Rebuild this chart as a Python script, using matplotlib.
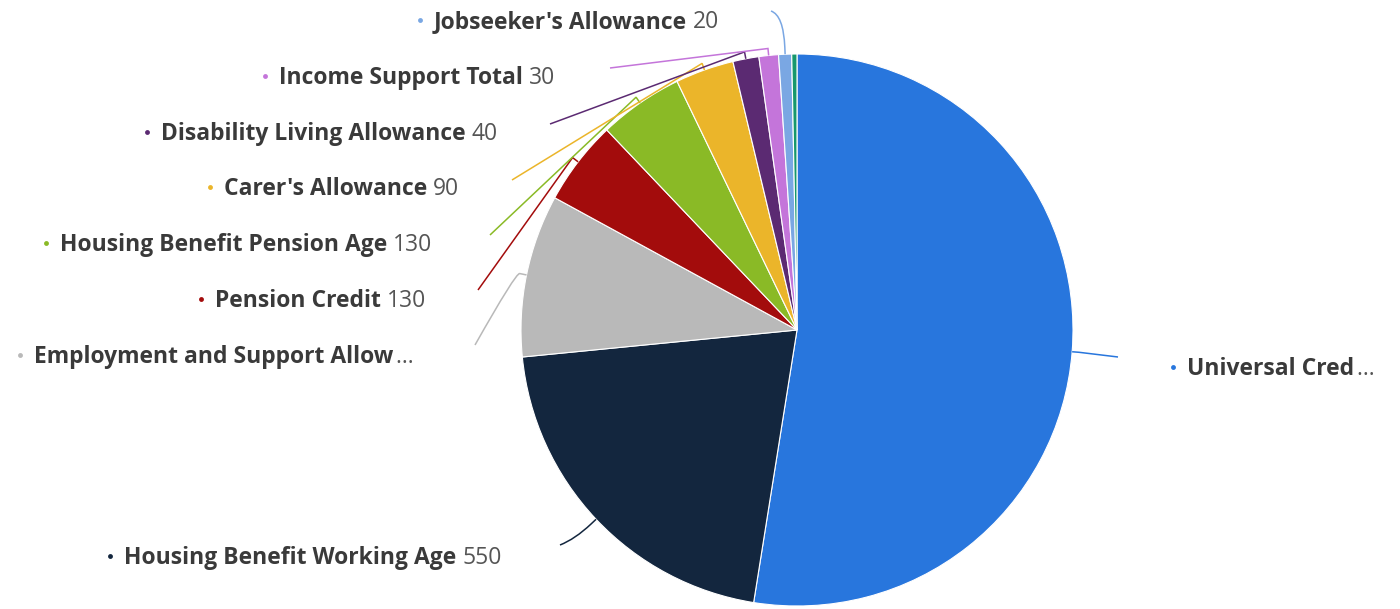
"""
benefit spending pie with outside labels and elbow connectors
"""
import matplotlib.pyplot as plt
from matplotlib.path import Path
from matplotlib.patches import PathPatch
import numpy as np

plt.rcParams['font.family'] = ['Open Sans', 'DejaVu Sans']

categories = ['Universal Credit', 'Housing Benefit Working Age', 'Employment and Support Allowance',
              'Pension Credit', 'Housing Benefit Pension Age', "Carer's Allowance",
              'Disability Living Allowance', 'Income Support Total', "Jobseeker's Allowance", 'Other']
values = [1380, 550, 250, 130, 130, 90, 40, 30, 20, 8]
colors = ['#2876dd', '#13263e', '#b9b9b9', '#a30c0c', '#8aba26', '#ebb52a',
          '#5b2a72', '#c475da', '#7aa7e3', '#16986c']

# label names get cut when there is no room (None = full name + value)
cut = [14, None, 28, None, None, None, None, None, None, None]

# layout, pixel coords measured from the top left
W, H = 1400, 609
center = (797, 330)
radius = 276
label_pos = [(1173, 366), (110, 555), (20, 354), (201, 298), (46, 242), (210, 186),
             (147, 131), (265, 75), (420, 19), None]
line_end = [(1118, 357), (560, 545), (475, 345), (478, 290), (490, 235), (512, 180),
            (550, 124), (610, 68), (771, 11), None]
curl = [0, 22, 4, 0, 0, 0, 0, 0, 32, 0]

fig = plt.figure(figsize=(14, 6.09), dpi=100)
ax = fig.add_axes([0, 0, 1, 1])

# y axis runs downward, so startangle -90 is the top and ccw in data is clockwise on screen
wedges, _ = ax.pie(values, colors=colors, startangle=-90, counterclock=True,
                   center=center, radius=radius,
                   wedgeprops=dict(edgecolor='white', linewidth=0.8))
ax.set_xlim(0, W)
ax.set_ylim(H, 0)
ax.set_aspect('auto')
ax.axis('off')

# connectors: short radial stub off the edge, then on to the label
for i, w in enumerate(wedges):
    if line_end[i] is None:
        continue
    th = np.deg2rad((w.theta1 + w.theta2) / 2)
    d = np.array([np.cos(th), np.sin(th)])
    p0 = np.array(center) + radius * d
    p1 = np.array(center) + (radius + 7) * d
    ctrl = p1 + curl[i] * d
    p2 = np.array(line_end[i])
    path = Path([p0, p1, ctrl, p2], [Path.MOVETO, Path.LINETO, Path.CURVE3, Path.CURVE3])
    ax.add_patch(PathPatch(path, facecolor='none', edgecolor=colors[i], lw=1.1))

fig.canvas.draw()
rend = fig.canvas.get_renderer()

for i, name in enumerate(categories):
    if label_pos[i] is None:
        continue
    bx, by = label_pos[i]
    ax.plot(bx, by + 1, 'o', color=colors[i], ms=3.5, mec='none')
    if cut[i] is not None:
        shown, tail = name[:cut[i]], '\u2026'
    else:
        shown, tail = name, f'{values[i]}'
    t = ax.text(bx + 14, by, shown, fontsize=16.5, fontweight='bold', color='#3a3a3a',
                va='center_baseline', ha='left')
    x_end = t.get_window_extent(renderer=rend).x1
    ax.text(x_end + (2 if cut[i] else 6), by, tail, fontsize=16.5, color='#555555',
            va='center_baseline', ha='left')

fig.savefig('out.png', dpi=100)
